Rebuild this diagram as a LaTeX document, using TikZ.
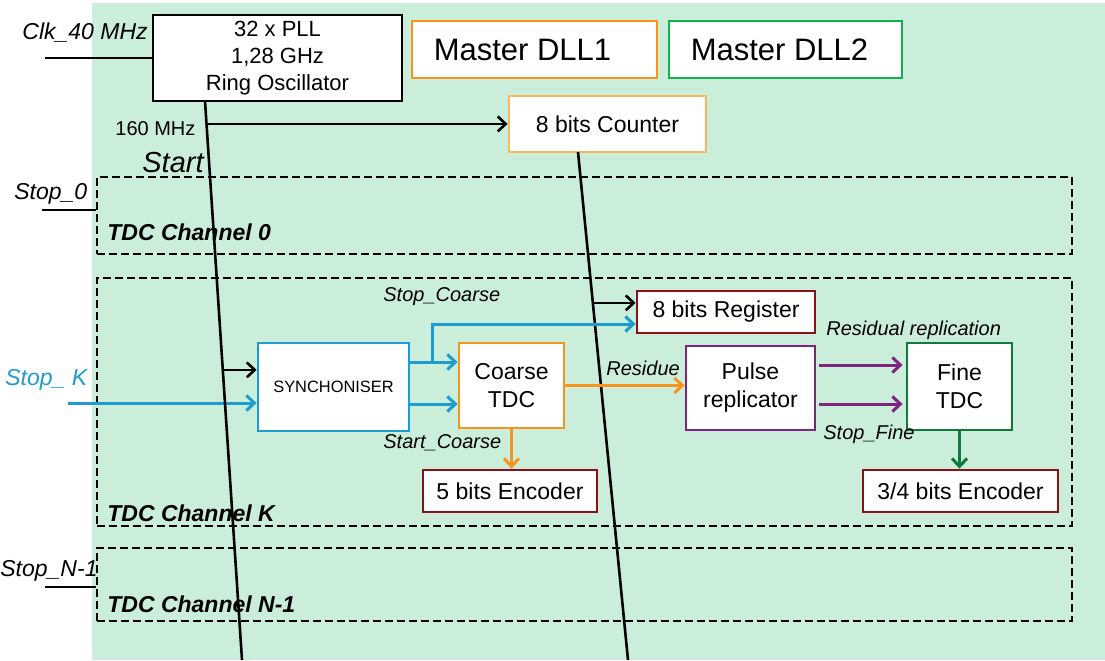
\documentclass[tikz,border=0pt]{standalone}
\usepackage{fontspec}
\setmainfont{Liberation Sans}
\usetikzlibrary{positioning,calc}
\usetikzlibrary{arrows.meta}
\definecolor{bg_green}{RGB}{203,238,219}
\definecolor{c_blue}{RGB}{30,155,207}
\definecolor{c_orange}{RGB}{247,148,30}
\definecolor{c_orange_light}{RGB}{251,180,96}
\definecolor{c_red}{RGB}{140,16,22}
\definecolor{c_purple}{RGB}{126,36,128}
\definecolor{c_green}{RGB}{14,122,60}
\definecolor{c_green_light}{RGB}{18,176,80}
\tikzset{
        block/.style={align=center,inner sep=0pt,draw,fill=white,line width=1.4pt,font=\fontsize{11.5}{14}\selectfont},
        % Clock source
        node_pll/.style={block, draw=black, font=\fontsize{11}{13.5}\selectfont},
        % Master DLLs
        node_dll/.style={block, line width=1.1pt, font=\fontsize{15.5}{18}\selectfont},
        % Blocks of a channel
        node_sync/.style={block, draw=c_blue, font=\fontsize{8.2}{10}\selectfont},
        node_out/.style={block, draw=c_red},
        % Channel frames
        node_channel/.style={inner sep=0pt, draw=black, dashed, dash pattern=on 4pt off 2pt, line width=1.4pt, minimum width=487.5pt},
        % Signal names
        sig/.style={inner sep=0pt, anchor=west, font=\fontsize{10}{12}\selectfont\itshape},
        sig_big/.style={inner sep=0pt, anchor=west, font=\fontsize{11.5}{14}\selectfont\itshape},
        chan_label/.style={inner sep=0pt, anchor=west, font=\fontsize{11.5}{14}\selectfont\bfseries\itshape},
        wire/.style={line width=1.3pt, -{Straight Barb[length=4pt,width=7.5pt]}},
        cwire/.style={wire, line width=1.5pt}
}

\begin{document}
\begin{tikzpicture}[x=0.5pt, y=-0.5pt]
            \useasboundingbox (0,0) rectangle (1105,660);
            \fill[bg_green] (92,3) rectangle (1105,660);

            % top row
            \node[node_pll, minimum width=124.5pt, minimum height=43pt] (pll) at (277.5,58) {32 x PLL\\1,28 GHz\\Ring Oscillator};
            \node[node_dll, draw=c_orange, minimum width=122.5pt, minimum height=28.5pt] (dll1) at (534.5,49.5) {Master DLL1\hspace*{12pt}};
            \node[node_dll, draw=c_green_light, minimum width=116.5pt, minimum height=28.5pt] (dll2) at (785.5,49.5) {Master DLL2\hspace*{6pt}};
            \node[block, draw=c_orange_light, minimum width=98.5pt, minimum height=28pt] (counter) at (607.5,124) {8 bits Counter};

            % channels
            \node[node_channel, minimum height=38.5pt] (ch0) at (584.5,215.5) {};
            \node[node_channel, minimum height=124pt] (chK) at (584.5,402) {};
            \node[node_channel, minimum height=36.5pt] (chN) at (584.5,584.5) {};
            \node[chan_label] (ch0_name) at (107,232) {TDC Channel 0};
            \node[chan_label] (chK_name) at (107,513) {TDC Channel K};
            \node[chan_label] (chN_name) at (107,604) {TDC Channel N-1};

            % channel K
            \node[node_sync, minimum width=75.5pt, minimum height=44pt] (sync) at (333.5,387) {SYNCHONISER};
            \node[block, draw=c_orange, minimum width=52.5pt, minimum height=42.5pt] (coarse) at (511.5,385.5) {Coarse\\TDC};
            \node[node_out, minimum width=89pt, minimum height=21pt] (reg) at (726,312) {8 bits Register};
            \node[node_out, minimum width=87pt, minimum height=21pt] (enc5) at (510,491) {5 bits Encoder};
            \node[block, draw=c_purple, minimum width=64.5pt, minimum height=42pt] (pulse) at (750.5,388) {Pulse\\replicator};
            \node[block, draw=c_green, minimum width=52.5pt, minimum height=43.5pt] (fine) at (959.5,386.5) {Fine\\TDC};
            \node[node_out, minimum width=97.5pt, minimum height=21pt] (enc34) at (960.5,491) {3/4 bits Encoder};

            % signal names
            \node[sig_big] (clk_name) at (22,33) {Clk\_40 MHz};
            \node[inner sep=0pt, anchor=west, font=\fontsize{10}{12}\selectfont] (f160) at (115,129) {160 MHz};
            \node[inner sep=0pt, anchor=west, font=\fontsize{14.5}{17}\selectfont\itshape] (start_name) at (142,163) {Start};
            \node[sig_big] (stop0_name) at (14,194) {Stop\_0};
            \node[sig_big, text=c_blue] (stopK_name) at (5,380) {Stop\_ K};
            \node[sig_big] (stopN_name) at (0,571) {Stop\_N-1};
            \node[sig] (stop_coarse) at (383,297) {Stop\_Coarse};
            \node[sig] (start_coarse) at (383,443) {Start\_Coarse};
            \node[sig] (residue) at (606,368) {Residue};
            \node[sig] (res_repl) at (826,330) {Residual replication};
            \node[sig] (stop_fine) at (823,434) {Stop\_Fine};

            % inputs
            \coordinate (clk_in) at (45,58);
            \coordinate (stop0_in) at (42,210);
            \coordinate (stopN_in) at (45,587);
            \coordinate (stopK_in) at (68,403);
            \draw[line width=1.3pt] (clk_in) -- (clk_in -| pll.west);
            \draw[line width=1.3pt] (stop0_in) -- (stop0_in -| ch0.west);
            \draw[line width=1.3pt] (stopN_in) -- (stopN_in -| chN.west);
            \draw[cwire, c_blue] (stopK_in) -- (stopK_in -| sync.west);

            % start lines
            \coordinate (s1top) at (205,101);
            \coordinate (s1bot) at (242,660);
            \coordinate (s2top) at (578,152);
            \coordinate (s2bot) at (628,660);
            \draw[line width=1.3pt] (s1top) -- (s1bot);
            \draw[line width=1.3pt] (s2top) -- (s2bot);
            \coordinate (tap160) at ($(s1top)!0.041!(s1bot)$);
            \coordinate (tapsync) at ($(s1top)!0.481!(s1bot)$);
            \coordinate (tapreg) at ($(s2top)!0.297!(s2bot)$);
            \draw[wire] (tap160) -- (tap160 -| counter.west);
            \draw[wire] (tapsync) -- (tapsync -| sync.west);
            \draw[wire] (tapreg) -- (tapreg -| reg.west);

            % coarse path
            \draw[cwire, c_blue] ([yshift=12.5pt]sync.east) -- ([yshift=12.5pt]sync.east -| coarse.west);
            \draw[cwire, c_blue] ([yshift=-8.5pt]sync.east) -- ([yshift=-8.5pt]sync.east -| coarse.west);
            \draw[cwire, c_blue] ($(sync.east)+(22,-25)$) |- ([yshift=-6pt]reg.west);
            \draw[cwire, c_orange] (coarse.south) -- (coarse.south |- enc5.north);
            \draw[cwire, c_orange] (coarse.east) -- (coarse.east -| pulse.west);

            % fine path
            \draw[cwire, c_purple] ([xshift=1.5pt, yshift=11.5pt]pulse.east) -- ([xshift=-1.5pt, yshift=11.5pt]pulse.east -| fine.west);
            \draw[cwire, c_purple] ([xshift=1.5pt, yshift=-8pt]pulse.east) -- ([xshift=-1.5pt, yshift=-8pt]pulse.east -| fine.west);
            \draw[cwire, c_green] (fine.south) -- (fine.south |- enc34.north);
\end{tikzpicture}
\end{document}
